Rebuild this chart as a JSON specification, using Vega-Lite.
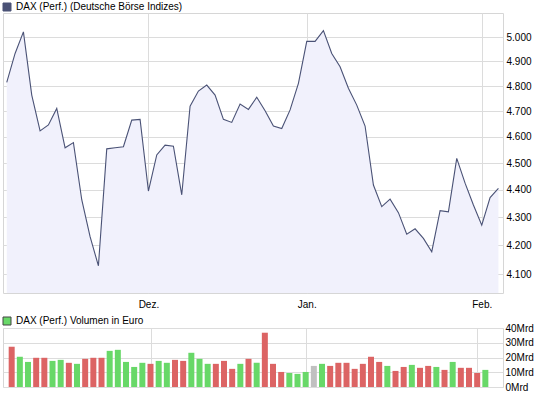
{
  "$schema": "https://vega.github.io/schema/vega-lite/v6.json",
  "background": "white",
  "padding": {"left": 1, "top": 1, "right": 0, "bottom": 0},
  "bounds": "flush",
  "spacing": 35,
  "resolve": {"scale": {"color": "independent", "x": "independent", "y": "independent"}, "legend": {"color": "independent"}},
  "config": {
    "font": "Liberation Sans",
    "view": {"stroke": "#d6d6d6", "strokeWidth": 1},
    "axis": {
      "gridColor": "#dcdcdc", "gridWidth": 1, "domain": false, "ticks": false,
      "labelFontSize": 10, "labelColor": "#000000", "labelFont": "Liberation Sans", "title": null
    },
    "legend": {"labelFontSize": 10, "labelColor": "#000000", "labelFont": "Liberation Sans", "labelLimit": 0}
  },
  "datasets": {
    "dax": [
      {"i": 0, "date": "2008-11-06", "close": 4815, "vol": 27.3, "dir": "down"},
      {"i": 1, "date": "2008-11-07", "close": 4933, "vol": 20.5, "dir": "up"},
      {"i": 2, "date": "2008-11-10", "close": 5023, "vol": 17.0, "dir": "up"},
      {"i": 3, "date": "2008-11-11", "close": 4764, "vol": 19.8, "dir": "down"},
      {"i": 4, "date": "2008-11-12", "close": 4623, "vol": 19.8, "dir": "down"},
      {"i": 5, "date": "2008-11-13", "close": 4646, "vol": 17.7, "dir": "up"},
      {"i": 6, "date": "2008-11-14", "close": 4711, "vol": 18.4, "dir": "up"},
      {"i": 7, "date": "2008-11-17", "close": 4558, "vol": 16.4, "dir": "down"},
      {"i": 8, "date": "2008-11-18", "close": 4578, "vol": 15.7, "dir": "up"},
      {"i": 9, "date": "2008-11-19", "close": 4364, "vol": 19.1, "dir": "down"},
      {"i": 10, "date": "2008-11-20", "close": 4231, "vol": 19.8, "dir": "down"},
      {"i": 11, "date": "2008-11-21", "close": 4129, "vol": 19.8, "dir": "down"},
      {"i": 12, "date": "2008-11-24", "close": 4554, "vol": 24.5, "dir": "up"},
      {"i": 13, "date": "2008-11-25", "close": 4558, "vol": 25.2, "dir": "up"},
      {"i": 14, "date": "2008-11-26", "close": 4562, "vol": 17.0, "dir": "up"},
      {"i": 15, "date": "2008-11-27", "close": 4665, "vol": 13.6, "dir": "up"},
      {"i": 16, "date": "2008-11-28", "close": 4668, "vol": 16.4, "dir": "up"},
      {"i": 17, "date": "2008-12-01", "close": 4396, "vol": 15.7, "dir": "down"},
      {"i": 18, "date": "2008-12-02", "close": 4531, "vol": 17.7, "dir": "up"},
      {"i": 19, "date": "2008-12-03", "close": 4568, "vol": 16.4, "dir": "up"},
      {"i": 20, "date": "2008-12-04", "close": 4564, "vol": 18.4, "dir": "down"},
      {"i": 21, "date": "2008-12-05", "close": 4382, "vol": 17.7, "dir": "down"},
      {"i": 22, "date": "2008-12-08", "close": 4720, "vol": 23.2, "dir": "up"},
      {"i": 23, "date": "2008-12-09", "close": 4780, "vol": 19.1, "dir": "up"},
      {"i": 24, "date": "2008-12-10", "close": 4804, "vol": 15.7, "dir": "up"},
      {"i": 25, "date": "2008-12-11", "close": 4764, "vol": 15.7, "dir": "down"},
      {"i": 26, "date": "2008-12-12", "close": 4668, "vol": 17.7, "dir": "down"},
      {"i": 27, "date": "2008-12-15", "close": 4656, "vol": 12.3, "dir": "down"},
      {"i": 28, "date": "2008-12-16", "close": 4728, "vol": 15.7, "dir": "up"},
      {"i": 29, "date": "2008-12-17", "close": 4707, "vol": 19.1, "dir": "down"},
      {"i": 30, "date": "2008-12-18", "close": 4755, "vol": 16.4, "dir": "up"},
      {"i": 31, "date": "2008-12-19", "close": 4702, "vol": 36.8, "dir": "down"},
      {"i": 32, "date": "2008-12-22", "close": 4642, "vol": 15.7, "dir": "down"},
      {"i": 33, "date": "2008-12-23", "close": 4632, "vol": 10.2, "dir": "down"},
      {"i": 34, "date": "2008-12-29", "close": 4705, "vol": 9.5, "dir": "up"},
      {"i": 35, "date": "2008-12-30", "close": 4811, "vol": 8.9, "dir": "up"},
      {"i": 36, "date": "2009-01-02", "close": 4983, "vol": 10.2, "dir": "up"},
      {"i": 37, "date": "2009-01-05", "close": 4983, "vol": 14.3, "dir": "flat"},
      {"i": 38, "date": "2009-01-06", "close": 5028, "vol": 15.7, "dir": "up"},
      {"i": 39, "date": "2009-01-07", "close": 4933, "vol": 14.3, "dir": "down"},
      {"i": 40, "date": "2009-01-08", "close": 4878, "vol": 16.4, "dir": "down"},
      {"i": 41, "date": "2009-01-09", "close": 4791, "vol": 16.4, "dir": "down"},
      {"i": 42, "date": "2009-01-12", "close": 4724, "vol": 12.3, "dir": "down"},
      {"i": 43, "date": "2009-01-13", "close": 4642, "vol": 15.7, "dir": "down"},
      {"i": 44, "date": "2009-01-14", "close": 4418, "vol": 20.5, "dir": "down"},
      {"i": 45, "date": "2009-01-15", "close": 4339, "vol": 17.0, "dir": "down"},
      {"i": 46, "date": "2009-01-16", "close": 4366, "vol": 14.3, "dir": "up"},
      {"i": 47, "date": "2009-01-19", "close": 4317, "vol": 10.9, "dir": "down"},
      {"i": 48, "date": "2009-01-20", "close": 4240, "vol": 13.6, "dir": "down"},
      {"i": 49, "date": "2009-01-21", "close": 4259, "vol": 15.0, "dir": "up"},
      {"i": 50, "date": "2009-01-22", "close": 4225, "vol": 13.0, "dir": "down"},
      {"i": 51, "date": "2009-01-23", "close": 4178, "vol": 14.3, "dir": "down"},
      {"i": 52, "date": "2009-01-26", "close": 4324, "vol": 13.6, "dir": "up"},
      {"i": 53, "date": "2009-01-27", "close": 4320, "vol": 11.6, "dir": "down"},
      {"i": 54, "date": "2009-01-28", "close": 4518, "vol": 17.0, "dir": "up"},
      {"i": 55, "date": "2009-01-29", "close": 4425, "vol": 13.0, "dir": "down"},
      {"i": 56, "date": "2009-01-30", "close": 4345, "vol": 13.0, "dir": "down"},
      {"i": 57, "date": "2009-02-02", "close": 4272, "vol": 9.5, "dir": "down"},
      {"i": 58, "date": "2009-02-03", "close": 4372, "vol": 11.6, "dir": "up"},
      {"i": 59, "date": "2009-02-04", "close": 4406, "dir": "up"}
    ]
  },
  "vconcat": [
    {
      "width": 500,
      "height": 280,
      "data": {"name": "dax"},
      "encoding": {
        "x": {
          "field": "i", "type": "quantitative",
          "scale": {"domain": [-0.45, 59.55], "nice": false, "zero": false},
          "axis": {"values": [17, 36, 57], "grid": true, "labelPadding": 6,
                   "labelExpr": "datum.value == 17 ? 'Dez.' : datum.value == 36 ? 'Jan.' : 'Feb.'"}
        },
        "y": {
          "field": "close", "type": "quantitative",
          "scale": {"type": "log", "domain": [4036, 5103], "nice": false, "zero": false},
          "axis": {"orient": "right", "grid": true, "labelPadding": 3,
                   "values": [4100, 4200, 4300, 4400, 4500, 4600, 4700, 4800, 4900, 5000],
                   "labelExpr": "replace(format(datum.value, ',.0f'), ',', '.')"}
        }
      },
      "layer": [
        {"mark": {"type": "area", "color": "#f1f1fc"}, "encoding": {"y2": {"datum": 4036}}},
        {
          "mark": {"type": "line", "strokeWidth": 1.1},
          "encoding": {
            "color": {
              "datum": "DAX (Perf.) (Deutsche Börse Indizes)",
              "scale": {"range": ["#4a5276"]},
              "legend": {
                "orient": "none", "legendX": -1, "legendY": -11, "title": null,
                "symbolType": "square", "symbolSize": 64, "labelOffset": 4, "labelLimit": 0,
                "encode": {"symbols": {"update": {"fill": {"value": "#4a5276"}, "stroke": {"value": "#666666"}, "strokeWidth": {"value": 1}, "opacity": {"value": 1}}}}
              }
            }
          }
        }
      ]
    },
    {
      "width": 500,
      "height": 59,
      "data": {"name": "dax"},
      "transform": [{"filter": "isValid(datum.vol)"}],
      "mark": {"type": "bar", "width": 6, "orient": "vertical"},
      "encoding": {
        "x": {
          "field": "i", "type": "quantitative",
          "scale": {"domain": [-0.45, 59.55], "nice": false, "zero": false},
          "axis": {"values": [17, 36, 57], "grid": true, "labels": false}
        },
        "y": {
          "field": "vol", "type": "quantitative",
          "scale": {"domain": [0, 40], "nice": false},
          "axis": {"orient": "right", "grid": true, "values": [0, 10, 20, 30, 40], "labelPadding": 2,
                   "labelExpr": "datum.value + 'Mrd'"}
        },
        "color": {
          "field": "dir", "type": "nominal",
          "scale": {"domain": ["up", "down", "flat"], "range": ["#68d868", "#dc6464", "#c0c0c0"]},
          "legend": {
            "values": ["up"], "labelExpr": "'DAX (Perf.) Volumen in Euro'",
            "orient": "none", "legendX": -1, "legendY": -12, "title": null,
            "symbolType": "square", "symbolSize": 64, "labelOffset": 4, "labelLimit": 0,
            "encode": {"symbols": {"update": {"stroke": {"value": "#444444"}, "strokeWidth": {"value": 1}}}}
          }
        }
      }
    }
  ]
}
